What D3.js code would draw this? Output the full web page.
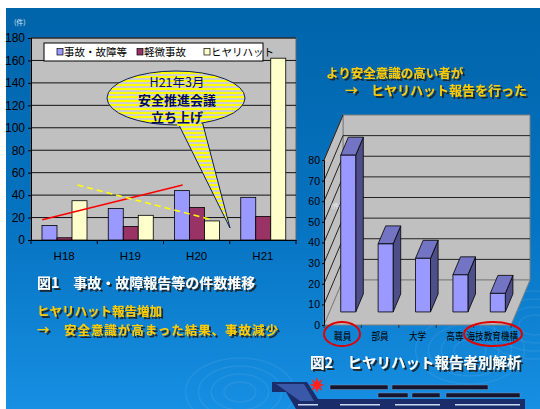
<!DOCTYPE html>
<html>
<head>
<meta charset="utf-8">
<script src="https://cdn.jsdelivr.net/npm/d3@7/dist/d3.min.js"></script>
<style>
  body { margin: 0; background: #fff; }
  svg { display: block; }
</style>
</head>
<body>
<div id="plot"></div>
<script>
// ---- data: figure 1 (reports per year) ----
const years = ["H18", "H19", "H20", "H21"];
const seriesNames = ["事故・故障等", "軽微事故", "ヒヤリハット"];
const accidents = [13, 28, 44, 38];
const minorAccidents = [2, 12, 29, 21];
const nearMiss = [35, 22, 17, 162];
const yTicks1 = [0, 20, 40, 60, 80, 100, 120, 140, 160, 180];
// hand drawn trend lines: [category index, value]
const trendUp = [[-0.33, 18], [1.79, 49]];
const trendDown = [[0.2, 49], [2.24, 18]];

// ---- data: figure 2 (near-miss reporters) ----
const reporters = ["職員", "部員", "大学", "高専", "海技教育機構"];
const reporterCounts = [76, 33, 26, 18, 9];
const yTicks2 = [0, 10, 20, 30, 40, 50, 60, 70, 80];

const W = 540, H = 409;
const colors = ["#9999FF", "#993366", "#FFFFCC"];
const jp = "'Noto Sans CJK JP', 'Noto Sans', sans-serif";
const num = "'Liberation Sans Narrow', 'Liberation Sans', Arial, sans-serif";

const svg = d3.select("#plot").append("svg")
  .attr("width", W).attr("height", H);

const defs = svg.append("defs");
const bg = defs.append("linearGradient").attr("id", "bg")
  .attr("x1", 0).attr("y1", 0).attr("x2", 0).attr("y2", 1);
bg.append("stop").attr("offset", "0%").attr("stop-color", "#0064AA");
bg.append("stop").attr("offset", "55%").attr("stop-color", "#0674C2");
bg.append("stop").attr("offset", "100%").attr("stop-color", "#178FE2");

const stripes = defs.append("pattern").attr("id", "stripes")
  .attr("patternUnits", "userSpaceOnUse").attr("width", 8).attr("height", 4);
stripes.append("rect").attr("width", 8).attr("height", 4).attr("fill", "#CDCDD2");
stripes.append("rect").attr("width", 8).attr("height", 2).attr("fill", "#FFFF00");

const shadow = defs.append("filter").attr("id", "shadow")
  .attr("x", "-10%").attr("y", "-30%").attr("width", "130%").attr("height", "170%");
shadow.append("feDropShadow").attr("dx", 2).attr("dy", 2)
  .attr("stdDeviation", 0.6).attr("flood-color", "#1a1a1a").attr("flood-opacity", 0.9);

// background
svg.append("rect").attr("x", 6).attr("y", 8).attr("width", W - 6).attr("height", H - 8)
  .attr("fill", "url(#bg)");

// faint ripples
const ripples = svg.append("g").attr("fill", "none").attr("stroke", "#ffffff").attr("stroke-opacity", 0.07);
[[240, 392], [470, 350], [535, 325]].forEach(([cx, cy]) => {
  [10, 18, 26, 34].forEach(r => {
    ripples.append("ellipse").attr("cx", cx).attr("cy", cy).attr("rx", r * 1.6).attr("ry", r)
      .attr("stroke-width", 1.5);
  });
});

// ================= Figure 1 =================
const x0 = d3.scaleBand().domain(years).range([31, 296]);
const x1 = d3.scaleBand().domain(seriesNames).range([11, 56]);
const xi = d3.scaleLinear().domain([-0.5, years.length - 0.5]).range([31, 296]);
const y1 = d3.scaleLinear().domain([0, 180]).range([240, 38]);

const g1 = svg.append("g");
g1.append("rect").attr("x", 31).attr("y", 38).attr("width", 265).attr("height", 202)
  .attr("fill", "#C0C0C0").attr("stroke", "#666").attr("stroke-width", 1);

g1.append("g").selectAll("line").data(yTicks1.slice(1)).join("line")
  .attr("x1", 31).attr("x2", 296)
  .attr("y1", d => y1(d)).attr("y2", d => y1(d))
  .attr("stroke", "#111").attr("stroke-width", 1);

const yAxis1 = g1.append("g").attr("transform", "translate(31,0)")
  .call(d3.axisLeft(y1).tickValues(yTicks1).tickSize(3).tickPadding(3));
yAxis1.select(".domain").attr("stroke", "#000");
yAxis1.selectAll("text").attr("font-family", num).attr("font-size", 12).attr("fill", "#000");

const xAxis1 = g1.append("g").attr("transform", "translate(0,240)")
  .call(d3.axisBottom(x0).tickSize(0).tickPadding(12));
xAxis1.select(".domain").attr("stroke", "#000");
xAxis1.selectAll("text").attr("font-family", num).attr("font-size", 11.5).attr("fill", "#000");
g1.append("g").selectAll("line").data(d3.range(years.length + 1)).join("line")
  .attr("x1", d => xi(d - 0.5)).attr("x2", d => xi(d - 0.5))
  .attr("y1", 240).attr("y2", 244).attr("stroke", "#000");

const rows = years.map((yr, i) => ({ yr, vals: [accidents[i], minorAccidents[i], nearMiss[i]] }));
g1.append("g").selectAll("g").data(rows).join("g")
  .attr("transform", d => `translate(${x0(d.yr)},0)`)
  .selectAll("rect").data(d => d.vals.map((v, k) => ({ k, v }))).join("rect")
  .attr("x", d => x1(seriesNames[d.k]))
  .attr("y", d => y1(d.v))
  .attr("width", x1.bandwidth())
  .attr("height", d => y1(0) - y1(d.v))
  .attr("fill", d => colors[d.k])
  .attr("stroke", "#000").attr("stroke-width", 0.8);

// legend
const lg = g1.append("g");
lg.append("rect").attr("x", 44).attr("y", 43).attr("width", 219).attr("height", 18)
  .attr("fill", "#fff").attr("stroke", "#000").attr("stroke-width", 1);
const legX = [57, 137, 204];
seriesNames.forEach((s, k) => {
  lg.append("rect").attr("x", legX[k]).attr("y", 48.5).attr("width", 6).attr("height", 6.5)
    .attr("fill", colors[k]).attr("stroke", "#000").attr("stroke-width", 0.7);
  lg.append("text").attr("x", legX[k] + 7).attr("y", 56).text(s)
    .attr("font-family", jp).attr("font-size", 10.5).attr("fill", "#000");
});

// trend lines
const tl = d3.line().x(d => xi(d[0])).y(d => y1(d[1]));
g1.append("path").attr("d", tl(trendUp)).attr("fill", "none")
  .attr("stroke", "#FF0000").attr("stroke-width", 1.6);
g1.append("path").attr("d", tl(trendDown)).attr("fill", "none")
  .attr("stroke", "#FFFF00").attr("stroke-width", 1.6).attr("stroke-dasharray", "6,4");

// callout
const tail = "M175,117 L201,117 L230,228 Z";
const call = g1.append("g");
call.append("path").attr("d", tail).attr("fill", "url(#stripes)").attr("stroke", "#0A2050").attr("stroke-width", 1);
call.append("ellipse").attr("cx", 176).attr("cy", 98).attr("rx", 69).attr("ry", 27)
  .attr("fill", "url(#stripes)").attr("stroke", "#0A2050").attr("stroke-width", 1);
call.append("path").attr("d", "M176,110 L200,110 L201.6,126 L177.4,126 Z").attr("fill", "url(#stripes)");
const callText = [["H21年3月", 400, 12.5], ["安全推進会議", 700, 13], ["立ち上げ", 700, 13]];
callText.forEach((t, i) => {
  call.append("text").attr("x", 177).attr("y", 87 + i * 17.5).attr("text-anchor", "middle")
    .attr("font-family", jp).attr("font-weight", t[1]).attr("font-size", t[2])
    .attr("fill", "#000A60").text(t[0]);
});

svg.append("text").attr("x", 14).attr("y", 25).text("(件)")
  .attr("font-family", jp).attr("font-size", 7).attr("fill", "#DDE8F4");

// ================= Figure 2 (3D columns) =================
const dx = 19, dy = -45, floorY = 325;
const xr = d3.scaleBand().domain(reporters).range([324, 511]);
const yr = d3.scaleLinear().domain([0, 80]).range([0, 165]);
const P = (x, v, d) => [x + d * dx, floorY - yr(v) + d * dy];
const poly = pts => "M" + pts.map(p => p.join(",")).join("L") + "Z";
const x2a = xr.range()[0], x2b = xr.range()[1];

const g2 = svg.append("g");
// walls and floor
g2.append("path").attr("d", poly([P(x2a, 0, 1), P(x2b, 0, 1), P(x2b, 80, 1), P(x2a, 80, 1)]))
  .attr("fill", "#C0C0C0").attr("stroke", "#808080");
g2.append("path").attr("d", poly([P(x2a, 0, 0), P(x2a, 0, 1), P(x2a, 80, 1), P(x2a, 80, 0)]))
  .attr("fill", "#C0C0C0").attr("stroke", "#808080");
g2.append("path").attr("d", poly([P(x2a, 0, 0), P(x2b, 0, 0), P(x2b, 0, 1), P(x2a, 0, 1)]))
  .attr("fill", "#C0C0C0").attr("stroke", "#808080");

// gridlines on back wall and left wall
g2.append("g").selectAll("line").data(yTicks2.slice(1, -1)).join("line")
  .attr("x1", d => P(x2a, d, 1)[0]).attr("y1", d => P(x2a, d, 1)[1])
  .attr("x2", d => P(x2b, d, 1)[0]).attr("y2", d => P(x2b, d, 1)[1])
  .attr("stroke", "#222").attr("stroke-width", 1);
g2.append("g").selectAll("line").data(yTicks2.slice(1)).join("line")
  .attr("x1", d => P(x2a, d, 0)[0]).attr("y1", d => P(x2a, d, 0)[1])
  .attr("x2", d => P(x2a, d, 1)[0]).attr("y2", d => P(x2a, d, 1)[1])
  .attr("stroke", "#222").attr("stroke-width", 1);

// front y axis
const yAxis2 = d3.scaleLinear().domain([0, 80]).range([floorY, floorY - 165]);
const ya2 = g2.append("g").attr("transform", `translate(${x2a},0)`)
  .call(d3.axisLeft(yAxis2).tickValues(yTicks2).tickSize(2).tickPadding(2));
ya2.select(".domain").attr("stroke", "#000");
ya2.selectAll("text").attr("font-family", num).attr("font-size", 10.5).attr("fill", "#000");
g2.append("g").selectAll("line").data(d3.range(reporters.length + 1)).join("line")
  .attr("x1", d => x2a + d * xr.step()).attr("x2", d => x2a + d * xr.step())
  .attr("y1", floorY).attr("y2", floorY + 3).attr("stroke", "#333");

g2.append("text").attr("x", 331).attr("y", 208).text("(件)")
  .attr("font-family", jp).attr("font-size", 6).attr("fill", "#EEE");

// bars
const d0 = 0.29, d1 = 0.69, bw = 15;
const bars = g2.append("g").selectAll("g").data(reporters.map((r, i) => ({ r, v: reporterCounts[i] })))
  .join("g").attr("stroke", "#000").attr("stroke-width", 0.8).attr("stroke-linejoin", "round");
bars.each(function (d) {
  const g = d3.select(this);
  const xl = xr(d.r) + xr.bandwidth() / 2 - bw / 2, xrr = xl + bw;
  g.append("path").attr("d", poly([P(xrr, 0, d0), P(xrr, 0, d1), P(xrr, d.v, d1), P(xrr, d.v, d0)]))
    .attr("fill", "#4E4E88");
  g.append("path").attr("d", poly([P(xl, d.v, d0), P(xrr, d.v, d0), P(xrr, d.v, d1), P(xl, d.v, d1)]))
    .attr("fill", "#7474C4");
  g.append("path").attr("d", poly([P(xl, 0, d0), P(xrr, 0, d0), P(xrr, d.v, d0), P(xl, d.v, d0)]))
    .attr("fill", "#9999FF");
});

// category labels (narrow, as in the original)
g2.append("g").selectAll("text").data(reporters).join("text")
  .attr("x", d => xr(d) + xr.bandwidth() / 2 - d.length * 4.3).attr("y", 340)
  .attr("font-family", jp).attr("font-size", 10.5)
  .attr("textLength", d => d.length * 8.6).attr("lengthAdjust", "spacingAndGlyphs")
  .attr("fill", "#000").text(d => d);

// red highlight ellipses
[[342, 334, 18, 12], [493, 334, 29, 12]].forEach(e => {
  g2.append("ellipse").attr("cx", e[0]).attr("cy", e[1]).attr("rx", e[2]).attr("ry", e[3])
    .attr("fill", "none").attr("stroke", "#E00000").attr("stroke-width", 2);
});

// ================= captions =================
const cap = (x, y, t, size, fill) => svg.append("text").attr("x", x).attr("y", y).text(t)
  .attr("font-family", jp).attr("font-weight", 700).attr("font-size", size)
  .attr("fill", fill).attr("filter", "url(#shadow)");
cap(37, 288, "図1　事故・故障報告等の件数推移", 14, "#FFFFFF");
cap(37, 316, "ヒヤリハット報告増加", 12.5, "#FFCC00");
cap(37, 335, "→　安全意識が高まった結果、事故減少", 12.5, "#FFCC00")
  .attr("textLength", 241).attr("lengthAdjust", "spacing");
cap(326, 78, "より安全意識の高い者が", 12.5, "#FFCC00");
cap(345, 95, "→　ヒヤリハット報告を行った", 13, "#FFCC00");
cap(310, 368, "図2　ヒヤリハット報告者別解析", 14.5, "#FFFFFF");

// ================= logo =================
const logo = svg.append("g");
logo.append("path").attr("d", "M272,382 L307,382 L318,399 L525,399 L525,409 L296,409 L286,392 L272,392 Z")
  .attr("fill", "#1A2C6A");
logo.append("path").attr("d", "M276,384 L304,384 L314,401 L300,401 Z").attr("fill", "#3A58A8");
[[298, 318], [340, 380], [395, 440], [455, 520]].forEach(s => {
  logo.append("rect").attr("x", s[0]).attr("y", 404).attr("width", s[1] - s[0]).attr("height", 1.5)
    .attr("fill", "#C8D8F0");
});
const star = d3.range(16).map(i => {
  const a = Math.PI * i / 8, r = i % 2 ? 3.5 : 8;
  return [317 + r * Math.sin(a), 385 - r * Math.cos(a)];
});
logo.append("path").attr("d", poly(star)).attr("fill", "#FF2020");
[[330, 385, 58], [392, 385, 96], [378, 393, 30], [412, 393, 28], [446, 393, 74]].forEach(r => {
  logo.append("rect").attr("x", r[0]).attr("y", r[1]).attr("width", r[2]).attr("height", 4.5)
    .attr("fill", "#151530").attr("stroke", "#8090B0").attr("stroke-width", 0.5);
});
</script>
</body>
</html>
